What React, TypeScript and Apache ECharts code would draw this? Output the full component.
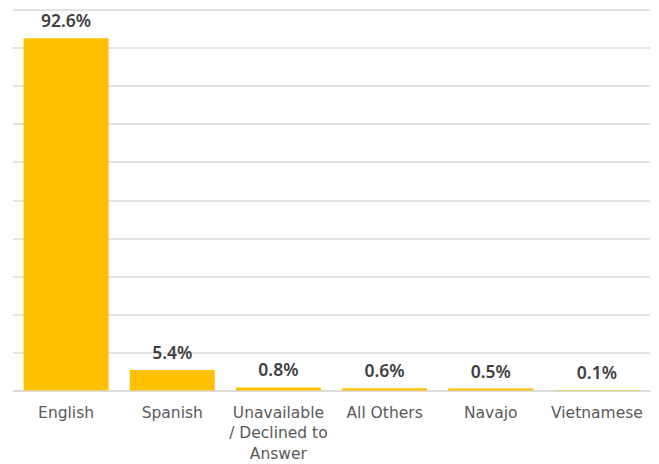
import React, { useEffect, useRef } from "react";
import * as echarts from "echarts";

const categories = ["English", "Spanish", "Unavailable\n/ Declined to\nAnswer", "All Others", "Navajo", "Vietnamese"];
const values = [92.6, 5.4, 0.8, 0.6, 0.5, 0.1];
const yMax = 100;
const yInterval = 10;

export default function App() {
  const ref = useRef<HTMLDivElement>(null);
  useEffect(() => {
    if (!ref.current) return;
    const chart = echarts.init(ref.current, null, { renderer: "svg" });
    chart.setOption({
      animation: false,
      grid: { left: 13, right: 9, top: 10, bottom: 73, containLabel: false },
      xAxis: {
        type: "category",
        data: categories,
        axisLine: { show: true, lineStyle: { color: "#d9d9d9", width: 1.5 } },
        axisTick: { show: false },
        axisLabel: {
          color: "#595959",
          fontFamily: "DejaVu Sans",
          fontSize: 15.5,
          lineHeight: 20.5,
          margin: 12,
          interval: 0,
        },
      },
      yAxis: {
        type: "value",
        min: 0,
        max: yMax,
        interval: yInterval,
        axisLabel: { show: false },
        axisLine: { show: false },
        axisTick: { show: false },
        splitLine: { lineStyle: { color: "#d9d9d9", width: 1.5 } },
      },
      series: [
        {
          type: "bar",
          data: values,
          barCategoryGap: "20%",
          itemStyle: { color: "#FFC000" },
          label: {
            show: true,
            position: "top",
            distance: 9,
            formatter: (p: any) => `${p.value}%`,
            color: "#404040",
            fontFamily: "Noto Sans",
            fontWeight: 600,
            fontSize: 17.5,
          },
        },
      ],
    });
    return () => chart.dispose();
  }, []);
  return <div ref={ref} style={{ position: "absolute", left: 0, top: 0, width: 659, height: 464 }} />;
}
